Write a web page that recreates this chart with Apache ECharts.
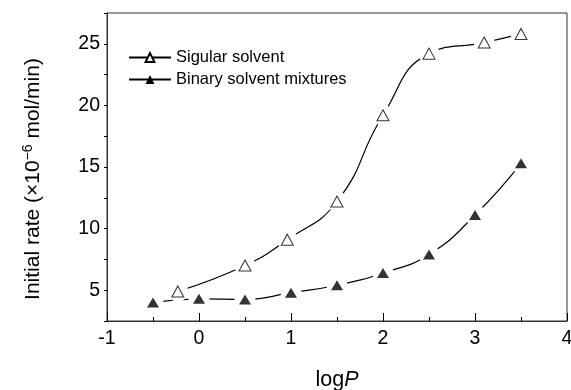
<!DOCTYPE html>
<html>
<head>
<meta charset="utf-8">
<script src="https://cdn.jsdelivr.net/npm/echarts@6/dist/echarts.min.js"></script>
<style>
html,body{margin:0;padding:0;background:#fff;}
#chart{width:571px;height:390px;}
</style>
</head>
<body>
<div id="chart"></div>
<script>
// Data
const seriesNames = ['Sigular solvent', 'Binary solvent mixtures'];
const singularX = [-0.23, 0.5, 0.96, 1.5, 2.0, 2.5, 3.1, 3.5];
const singularY = [4.9, 7.0, 9.1, 12.2, 19.2, 24.2, 25.1, 25.8];
const binaryX = [-0.5, 0, 0.5, 1.0, 1.5, 2.0, 2.5, 3.0, 3.5];
const binaryY = [4.0, 4.3, 4.25, 4.8, 5.4, 6.4, 7.9, 11.1, 15.3];
const xTickLabels = ['-1', '0', '1', '2', '3', '4'];
const yTickLabels = ['5', '10', '15', '20', '25'];

const pairs = (xs, ys) => xs.map((x, i) => [x, ys[i]]);
const singular = pairs(singularX, singularY);
const binary = pairs(binaryX, binaryY);

const FONT = 'Liberation Sans, Arial, sans-serif';
const chart = echarts.init(document.getElementById('chart'), null, {renderer: 'canvas'});

const openSym = {symbol: 'triangle', symbolSize: [12, 11], itemStyle: {color: '#fff', borderColor: '#000', borderWidth: 1}};
const fillSym = {symbol: 'triangle', symbolSize: [12, 10], itemStyle: {color: '#000', borderColor: '#000', borderWidth: 0}};

chart.setOption({
  animation: false,
  backgroundColor: '#fff',
  grid: {left: 107, right: 4, top: 13, bottom: 69, containLabel: false, outerBoundsMode: 'none',
    show: true, borderColor: '#333', borderWidth: 1, backgroundColor: 'transparent'},
  legend: {
    orient: 'vertical', left: 123, top: 44, itemWidth: 42, itemHeight: 11, itemGap: 5,
    data: seriesNames,
    textStyle: {fontFamily: FONT, fontSize: 16.5, color: '#000', lineHeight: 16}
  },
  xAxis: {
    type: 'value', min: -1, max: 4, interval: 1,
    name: '{a|log}{b|P}', nameLocation: 'middle', nameGap: 48,
    nameTextStyle: {rich: {a: {fontFamily: FONT, fontSize: 21.5, color: '#000'}, b: {fontFamily: FONT, fontSize: 21.5, fontStyle: 'italic', color: '#000'}}},
    axisLine: {show: true, onZero: false, lineStyle: {color: '#333', width: 1}},
    axisTick: {show: true, inside: true, length: 8, lineStyle: {color: '#000'}},
    minorTick: {show: true, splitNumber: 2, length: 4, lineStyle: {color: '#000'}},
    splitLine: {show: false},
    axisLabel: {fontFamily: FONT, fontSize: 19.5, color: '#000', margin: 8,
      formatter: v => { const i = Math.round(v + 1); return (Math.abs(v + 1 - i) < 1e-6 && xTickLabels[i] !== undefined) ? xTickLabels[i] : ''; }}
  },
  yAxis: {
    type: 'value', min: 2.5, max: 27.5, interval: 2.5,
    name: '{a|Initial rate (×10}{s|−6}{a| mol/min)}', nameLocation: 'middle', nameGap: 63, nameRotate: 90,
    nameTextStyle: {padding: [0, 24, 0, 0], rich: {a: {fontFamily: FONT, fontSize: 21, color: '#000', lineHeight: 23, verticalAlign: 'bottom'}, s: {fontFamily: FONT, fontSize: 14, color: '#000', lineHeight: 13, verticalAlign: 'top'}}},
    axisLine: {show: true, onZero: false, lineStyle: {color: '#333', width: 1}},
    axisTick: {show: true, inside: false, length: 3, lineStyle: {color: '#000'}},
    splitLine: {show: false},
    axisLabel: {fontFamily: FONT, fontSize: 19.5, color: '#000', margin: 7,
      formatter: v => { const s = String(Math.round(v)); return (Math.abs(v % 5) < 1e-6 && yTickLabels.indexOf(s) >= 0) ? s : ''; }}
  },
  series: [
    Object.assign({name: seriesNames[0], type: 'line', data: singular, smooth: 0.5, z: 2,
      lineStyle: {color: '#000', width: 1.2}}, openSym),
    Object.assign({name: seriesNames[1], type: 'line', data: binary, smooth: 0.5, z: 2,
      lineStyle: {color: '#000', width: 1.2}}, fillSym),
    {name: 'haloA', type: 'scatter', data: singular, symbol: 'circle', symbolSize: 21, z: 3, itemStyle: {color: '#fff', opacity: 1}, silent: true},
    {name: 'haloB', type: 'scatter', data: binary, symbol: 'circle', symbolSize: 21, z: 3, itemStyle: {color: '#fff', opacity: 1}, silent: true},
    Object.assign({name: 'markA', type: 'scatter', data: singular, z: 4}, openSym),
    Object.assign({name: 'markB', type: 'scatter', data: binary, z: 4}, fillSym)
  ]
});
</script>
</body>
</html>
